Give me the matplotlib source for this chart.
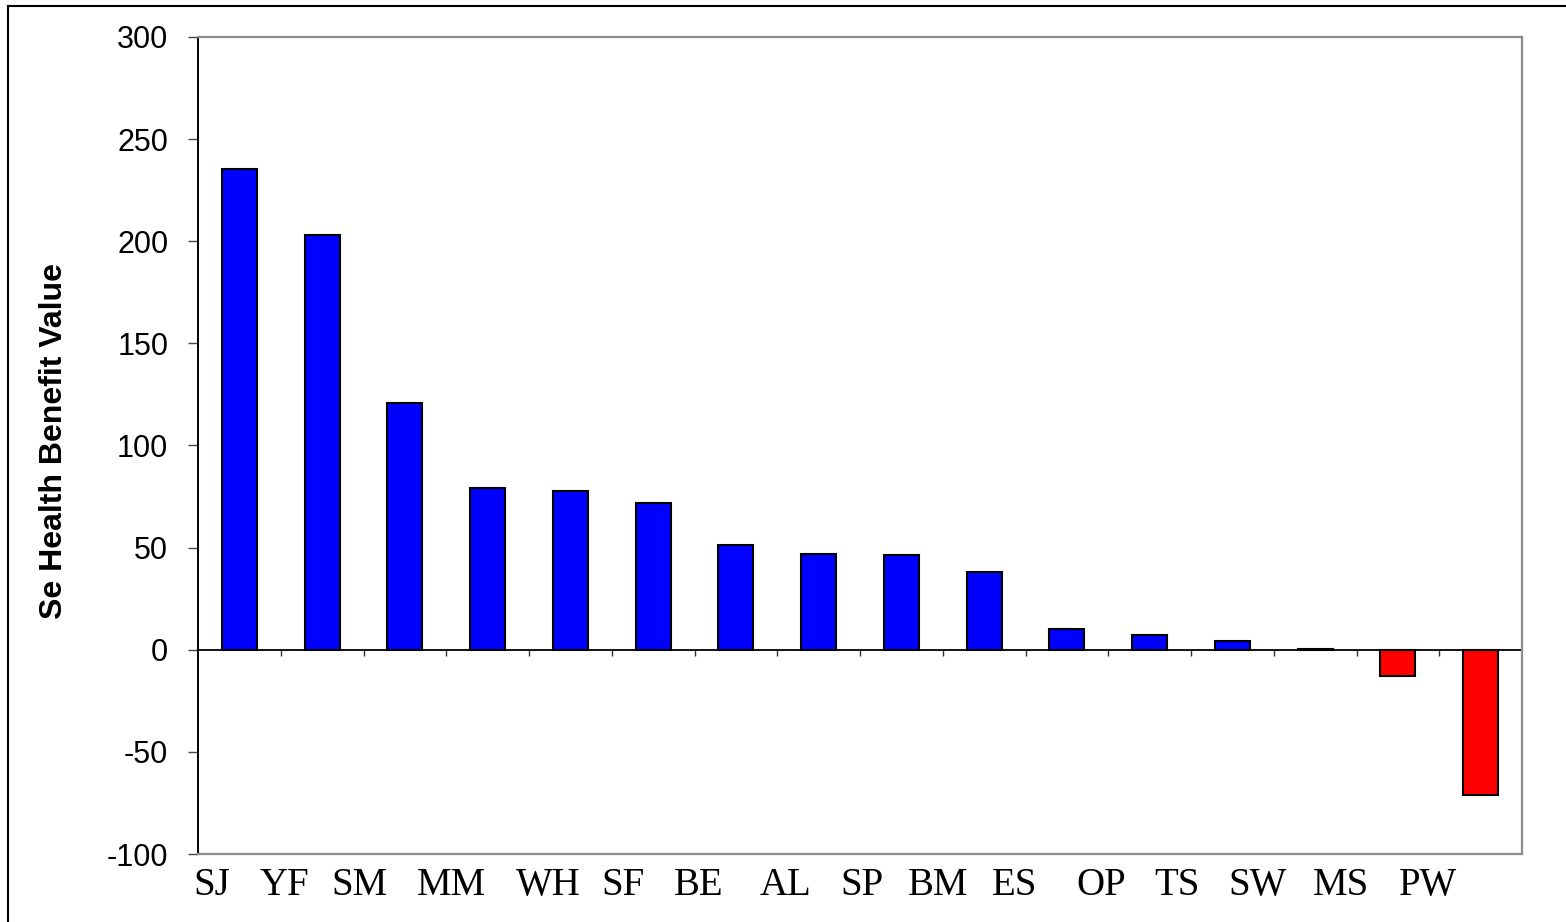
import matplotlib
matplotlib.use('Agg')
import matplotlib.pyplot as plt
from matplotlib.lines import Line2D
import numpy as np

plt.rcParams['axes.unicode_minus'] = False

# data
sites = ['SJ', 'YF', 'SM', 'MM', 'WH', 'SF', 'BE', 'AL', 'SP', 'BM', 'ES', 'OP', 'TS', 'SW', 'MS', 'PW']
values = [235.5, 203, 121, 79, 77.5, 72, 51.5, 47, 46.5, 38, 10, 7.2, 4.4, 0.6, -13, -71]

# label x positions in pixels (labels in the original sit off the bars)
label_px = [212, 284, 360, 452, 548, 623, 699, 786, 862, 938, 1015, 1101, 1177, 1258, 1341, 1428]

W, H = 1566, 922
fig = plt.figure(figsize=(W / 100, H / 100), dpi=100)
ax = fig.add_axes([198 / W, 1 - 854 / H, (1522 - 198) / W, (854 - 37) / H])

x = np.arange(len(sites))
colors = ['#0000ff' if v >= 0 else '#ff0000' for v in values]
ax.bar(x, values, width=0.42, color=colors, edgecolor='black', linewidth=1.5, zorder=3)

ymin, ymax = -100, 300
ax.set_xlim(-0.5, len(sites) - 0.5)
ax.set_ylim(ymin, ymax)
ax.set_yticks(np.arange(-100, 301, 50))
ax.set_xticks([])

for s in ['top', 'right', 'bottom']:
    ax.spines[s].set_color('#8c8c8c')
    ax.spines[s].set_linewidth(1.6)
ax.spines['left'].set_color('black')
ax.spines['left'].set_linewidth(1.4)

ax.tick_params(axis='y', direction='out', length=7.5, width=1.0, color='#444444',
               pad=14, labelsize=22)
for lab in ax.get_yticklabels():
    lab.set_fontfamily('Liberation Sans')

# zero line with category boundary ticks
zero = ax.secondary_xaxis((0 - ymin) / (ymax - ymin))
zero.set_xticks(np.arange(0.5, len(sites) - 1, 1.0))
zero.set_xticklabels([])
zero.tick_params(direction='out', length=4.5, width=1.0, color='#333333')
zero.spines['bottom'].set_color('black')
zero.spines['bottom'].set_linewidth(1.3)

fig.text(54 / W, 1 - 441 / H, 'Se Health Benefit Value', rotation=90,
         ha='center', va='center', fontsize=23, fontweight='bold',
         fontfamily='Liberation Sans')

for name, px in zip(sites, label_px):
    fig.text(px / W, 1 - 895 / H, name, ha='center', va='baseline',
             fontsize=28, fontfamily='Liberation Serif')

# outer frame (left and top edges visible)
fig.add_artist(Line2D([8 / W, 8 / W], [-0.1, 1 - 6 / H], transform=fig.transFigure,
                      color='black', linewidth=1.5))
fig.add_artist(Line2D([8 / W, 1.1], [1 - 6 / H, 1 - 6 / H], transform=fig.transFigure,
                      color='black', linewidth=1.5))

fig.savefig('out.png', dpi=100)
